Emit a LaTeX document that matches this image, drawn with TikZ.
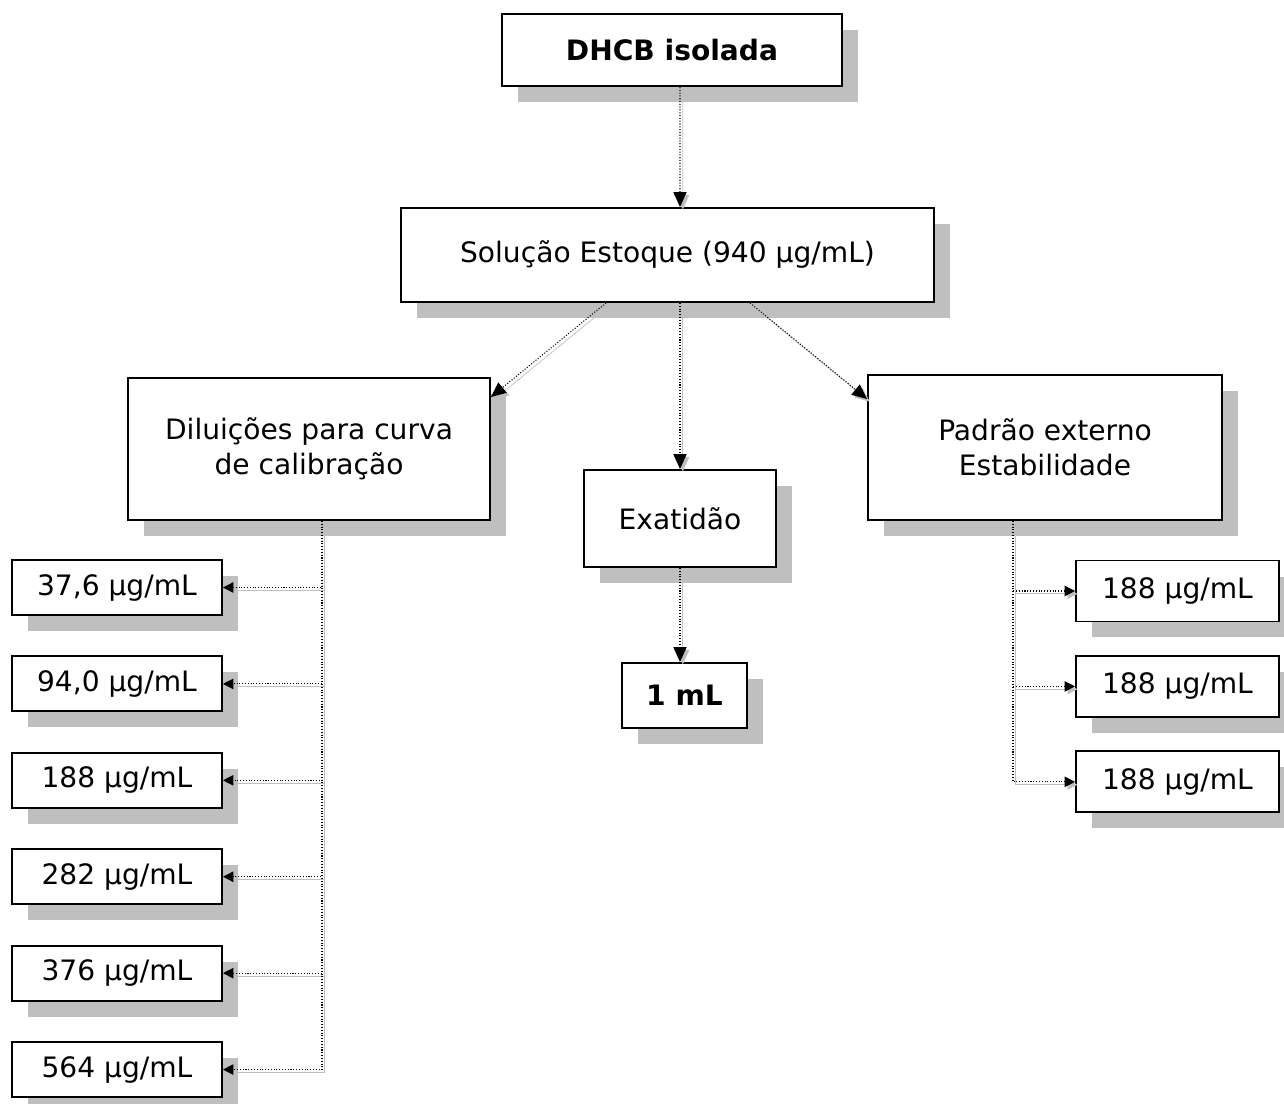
\documentclass[tikz,border=0pt]{standalone}
\usepackage{fontspec}
\setmainfont{DejaVu Sans}
\usepackage{tikz}
\usetikzlibrary{arrows.meta, positioning, shadows}

\begin{document}
\begin{tikzpicture}[
    x=0.02cm, y=-0.02cm,
    font=\fontsize{16}{20}\selectfont,
    box/.style={
        rectangle, draw, fill=white,
        line width=1.1pt,
        align=center,
        inner sep=2pt,
        drop shadow={shadow xshift=0.32cm, shadow yshift=-0.32cm,
                     fill=black!25, opacity=1}
    },
    conc/.style={box, minimum width=4.2cm, minimum height=1.1cm},
    padr/.style={box, minimum width=4.06cm, minimum height=1.22cm},
    link/.style={
        densely dotted, line width=0.6pt,
        -{Triangle[length=8.5pt,width=7.5pt]},
        preaction={draw=black!25, transform canvas={xshift=1.6pt, yshift=-1.6pt}}
    },
    buslink/.style={link, -{Triangle[length=6pt,width=6pt]}}
]
\useasboundingbox (0,0) rectangle (1284,1104);

% Topo
\node [box, minimum width=6.8cm, minimum height=1.44cm, font=\fontsize{16}{20}\selectfont\bfseries]
    (dhcb) at (672,50) {DHCB isolada};
\node [box, minimum width=10.66cm, minimum height=1.88cm]
    (stock) at (667.5,255) {Solução Estoque (940 μg/mL)};

% Ramos
\node [box, minimum width=7.24cm, minimum height=2.84cm]
    (dil) at (309,449) {Diluições para curva\\de calibração};
\node [box, minimum width=3.84cm, minimum height=1.94cm]
    (exat) at (680,518.5) {Exatidão};
\node [box, minimum width=7.08cm, minimum height=2.9cm]
    (pad) at (1045,447.5) {Padrão externo\\Estabilidade};
\node [box, minimum width=2.5cm, minimum height=1.3cm, font=\fontsize{16}{20}\selectfont\bfseries]
    (onemL) at (684.5,695.5) {1 mL};

% Curva de calibracao
\node [conc] (c1) at (117,587.5) {37,6 μg/mL};
\node [conc, below=0.79cm of c1] (c2) {94,0 μg/mL};
\node [conc, below=0.79cm of c2] (c3) {188 μg/mL};
\node [conc, below=0.79cm of c3] (c4) {282 μg/mL};
\node [conc, below=0.79cm of c4] (c5) {376 μg/mL};
\node [conc, below=0.79cm of c5] (c6) {564 μg/mL};

% Padrao externo
\node [padr] (p1) at (1177.5,591) {188 μg/mL};
\node [padr, below=0.65cm of p1] (p2) {188 μg/mL};
\node [padr, below=0.65cm of p2] (p3) {188 μg/mL};

% Ligacoes
\coordinate (lbus) at ([xshift=0.26cm]dil.south);
\coordinate (rbus) at ([xshift=-0.64cm]pad.south);

\draw [link] ([xshift=0.16cm]dhcb.south) -- ([xshift=0.25cm]stock.north);
\draw [link] ([xshift=-1.23cm]stock.south) -- ([yshift=-0.4cm]dil.north east);
\draw [link] (stock.south -| exat.north) -- (exat.north);
\draw [link] ([xshift=1.65cm]stock.south) -- ([yshift=-0.5cm]pad.north west);
\draw [link] (exat.south) -- (exat.south |- onemL.north);

\draw [buslink] (lbus) |- (c1);
\draw [buslink] (lbus) |- (c2);
\draw [buslink] (lbus) |- (c3);
\draw [buslink] (lbus) |- (c4);
\draw [buslink] (lbus) |- (c5);
\draw [buslink] (lbus) |- (c6);

\draw [buslink] (rbus) |- (p1);
\draw [buslink] (rbus) |- (p2);
\draw [buslink] (rbus) |- (p3);

\end{tikzpicture}
\end{document}
